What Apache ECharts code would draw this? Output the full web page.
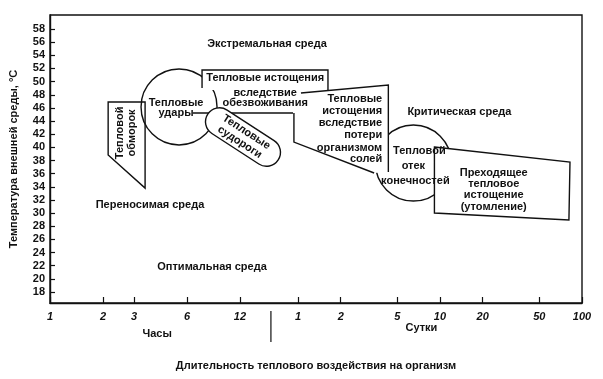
<!DOCTYPE html>
<html><head><meta charset="utf-8">
<script src="https://cdn.jsdelivr.net/npm/echarts@6/dist/echarts.min.js"></script>
<style>html,body{margin:0;padding:0;background:#fff}#c{width:603px;height:379px}</style>
</head><body><div id="c"></div>
<script>
// ---- tick labels ----
const tempTicks = [18,20,22,24,26,28,30,32,34,36,38,40,42,44,46,48,50,52,54,56,58];
const hourTicks = [1,2,3,6,12];
const dayTicks = [1,2,5,10,20,50,100];

// ---- shapes, [duration, temperature °C]; hours-part shapes in hours, days-part in days ----
const heatStrokeCenter = [5.41, 46.14];            // hours
const edemaCenter = [6.5, 37.62];                  // days
const syncopeShape = [[2.14,46.9],[3.47,46.9],[3.47,33.8],[2.14,38.84]];          // hours
const dehydrationFill = [[7.31,48.72],[7.31,51.76],[37.97,51.76],[37.97,48.72]];  // hours
const dehydrationEdge = [[7.31,49.03],[7.31,51.76],[37.97,51.76],[37.97,48.72]];  // hours
const strokeLink = [[6.49,45.22],[24.03,45.22]];                                  // hours
const crampsCenter = [12.49, 41.57];                                              // hours
const saltFill = [[1.05,48.27],[4.33,49.48],[4.33,36.25],[3.44,36.1],[0.937,40.81],[0.937,45.22]]; // days
const saltTop = [[1.05,48.27],[4.33,49.48],[4.33,36.25]];                         // days
const saltSide = [[0.937,45.22],[0.937,40.81],[3.44,36.1]];                       // days
const fatigueShape = [[9.14,40.05],[82.3,37.77],[80.9,28.95],[9.14,30.02]];       // days
const scaleBreakAt = 18;   // hours

// ---- texts ----
const hourTexts = [
  ['Экстремальная среда', 17.1, 55.7],
  ['Переносимая среда', 3.7, 31.2],
  ['Оптимальная среда', 8.33, 21.8],
  ['Тепловые', 5.2, 46.75],
  ['удары', 5.2, 45.22],
  ['Тепловые истощения', 16.7, 50.55],
  ['вследствие', 16.7, 48.27],
  ['обезвоживания', 16.7, 46.75]
];
const syncopeText = ['Тепловой\nобморок', 2.70, 42.2];
const crampsText = 'Тепловые\nсудороги';
const dayTexts = [
  ['Критическая среда', 13.7, 45.38],
  ['Тепловой', 7.16, 39.45],
  ['отек', 6.5, 37.16],
  ['конечностей', 6.71, 34.88],
  ['Преходящее', 23.9, 36.1],
  ['тепловое', 23.9, 34.4],
  ['истощение', 23.9, 32.7],
  ['(утомление)', 23.9, 31.0]
];
const saltTexts = [
  ['Тепловые', 3.92, 47.35],
  ['истощения', 3.92, 45.53],
  ['вследствие', 3.92, 43.70],
  ['потери', 3.92, 41.88],
  ['организмом', 3.92, 39.90],
  ['солей', 3.92, 38.23]
];
const hoursName = ['Часы', 4.06];
const daysName = ['Сутки', 7.4];

// ---- layout constants ----
const Y_MIN = 16.33, Y_MAX = 60.13, HOURS_MAX = 1054, DAYS_MIN = 0.01796;
const INK = '#111', LW = 1.4, R = 38;
const FONT = '"Liberation Sans", Arial, sans-serif';

function txt(api, s, p, extra) {
  const c = api.coord(p);
  const st = Object.assign({text: s, fill: INK, fontSize: 11, fontWeight: 'bold', fontFamily: FONT,
    align: 'center', verticalAlign: 'middle'}, (extra && extra.style) || {});
  return {type: 'text', x: c[0] + ((extra && extra.dx) || 0), y: c[1] + ((extra && extra.dy) || 0),
    rotation: (extra && extra.rotation) || 0, style: st};
}
function poly(api, a, fill, stroke, closed) {
  return {type: closed ? 'polygon' : 'polyline', shape: {points: a.map(p => api.coord(p))},
    style: {fill: fill || 'none', stroke: stroke ? INK : 'none', lineWidth: LW}};
}

function hoursLayer(params, api) {
  const ch = [];
  ch.push(poly(api, syncopeShape, '#fff', true, true));
  const c1 = api.coord(heatStrokeCenter);
  ch.push({type: 'circle', shape: {cx: c1[0], cy: c1[1], r: R}, style: {fill: 'none', stroke: INK, lineWidth: LW}});
  ch.push(poly(api, dehydrationFill, '#fff', false, true));
  ch.push(poly(api, dehydrationEdge, null, true, false));
  ch.push(poly(api, strokeLink, null, true, false));
  const cc = api.coord(crampsCenter);
  ch.push({type: 'rect', x: cc[0], y: cc[1], rotation: -33 * Math.PI / 180,
    shape: {x: -42, y: -14, width: 84, height: 28, r: 14}, style: {fill: '#fff', stroke: INK, lineWidth: LW}});
  const b = api.coord([scaleBreakAt, Y_MIN]);
  ch.push({type: 'line', shape: {x1: b[0], y1: b[1] + 8, x2: b[0], y2: b[1] + 39}, style: {stroke: INK, lineWidth: 1.2}});
  return {type: 'group', children: ch};
}

function daysLayer(params, api) {
  const ch = [];
  const c2 = api.coord(edemaCenter);
  ch.push({type: 'circle', shape: {cx: c2[0], cy: c2[1], r: R}, style: {fill: 'none', stroke: INK, lineWidth: LW}});
  ch.push(poly(api, saltFill, '#fff', false, true));
  ch.push(poly(api, saltTop, null, true, false));
  ch.push(poly(api, saltSide, null, true, false));
  ch.push(poly(api, fatigueShape, '#fff', true, true));
  return {type: 'group', children: ch};
}

function hoursTextLayer(params, api) {
  const ch = [];
  const cc = api.coord(crampsCenter);
  ch.push({type: 'text', x: cc[0], y: cc[1], rotation: -33 * Math.PI / 180,
    style: {text: crampsText, fill: INK, fontSize: 11, fontWeight: 'bold', fontFamily: FONT, align: 'center', verticalAlign: 'middle', lineHeight: 12}});
  ch.push(txt(api, syncopeText[0], [syncopeText[1], syncopeText[2]], {rotation: Math.PI / 2, style: {lineHeight: 12}}));
  hourTexts.forEach(t => ch.push(txt(api, t[0], [t[1], t[2]])));
  ch.push(txt(api, hoursName[0], [hoursName[1], Y_MIN], {dy: 31}));
  return {type: 'group', children: ch};
}

function daysTextLayer(params, api) {
  const ch = [];
  saltTexts.forEach(t => ch.push(txt(api, t[0], [t[1], t[2]], {style: {align: 'right'}})));
  dayTexts.forEach(t => ch.push(txt(api, t[0], [t[1], t[2]])));
  ch.push(txt(api, daysName[0], [daysName[1], Y_MIN], {dy: 25}));
  return {type: 'group', children: ch};
}

const labelStyle = {color: INK, fontSize: 11, fontWeight: 'bold', fontFamily: FONT};
const chart = echarts.init(document.getElementById('c'), null, {renderer: 'canvas'});
chart.setOption({
  animation: false,
  backgroundColor: '#fff',
  grid: {left: 50, right: 21, top: 15, bottom: 76, show: true, borderColor: INK, borderWidth: LW,
         containLabel: false, outerBoundsMode: 'none'},
  xAxis: [
    {type: 'log', min: 1, max: HOURS_MAX, position: 'bottom',
     axisLine: {show: true, lineStyle: {color: INK, width: LW}},
     axisTick: {show: true, inside: true, length: 6, customValues: hourTicks, lineStyle: {color: INK, width: 1.2}},
     axisLabel: Object.assign({customValues: hourTicks, fontStyle: 'italic', margin: 8}, labelStyle),
     splitLine: {show: false}, minorTick: {show: false},
     name: 'Длительность теплового воздействия на организм', nameLocation: 'middle', nameGap: 57,
     nameTextStyle: {color: INK, fontSize: 11, fontWeight: 'bold', fontFamily: FONT}},
    {type: 'log', min: DAYS_MIN, max: 100, position: 'bottom',
     axisLine: {show: false},
     axisTick: {show: true, inside: true, length: 6, customValues: dayTicks, lineStyle: {color: INK, width: 1.2}},
     axisLabel: Object.assign({customValues: dayTicks, fontStyle: 'italic', margin: 8}, labelStyle),
     splitLine: {show: false}, minorTick: {show: false}}
  ],
  yAxis: {type: 'value', min: Y_MIN, max: Y_MAX,
    axisLine: {show: true, lineStyle: {color: INK, width: LW}},
    axisTick: {show: true, inside: true, length: 5, customValues: tempTicks, lineStyle: {color: INK, width: 1.2}},
    axisLabel: Object.assign({customValues: tempTicks, margin: 5}, labelStyle),
    splitLine: {show: false},
    name: 'Температура внешней среды, °С', nameLocation: 'middle', nameGap: 31,
    nameTextStyle: {color: INK, fontSize: 11, fontWeight: 'bold', fontFamily: FONT}},
  series: [
    {type: 'custom', xAxisIndex: 0, yAxisIndex: 0, clip: false, silent: true, data: [[1, 30]], renderItem: hoursLayer, z: 3},
    {type: 'custom', xAxisIndex: 1, yAxisIndex: 0, clip: false, silent: true, data: [[1, 30]], renderItem: daysLayer, z: 4},
    {type: 'custom', xAxisIndex: 0, yAxisIndex: 0, clip: false, silent: true, data: [[1, 30]], renderItem: hoursTextLayer, z: 5},
    {type: 'custom', xAxisIndex: 1, yAxisIndex: 0, clip: false, silent: true, data: [[1, 30]], renderItem: daysTextLayer, z: 6}
  ]
});
</script></body></html>
